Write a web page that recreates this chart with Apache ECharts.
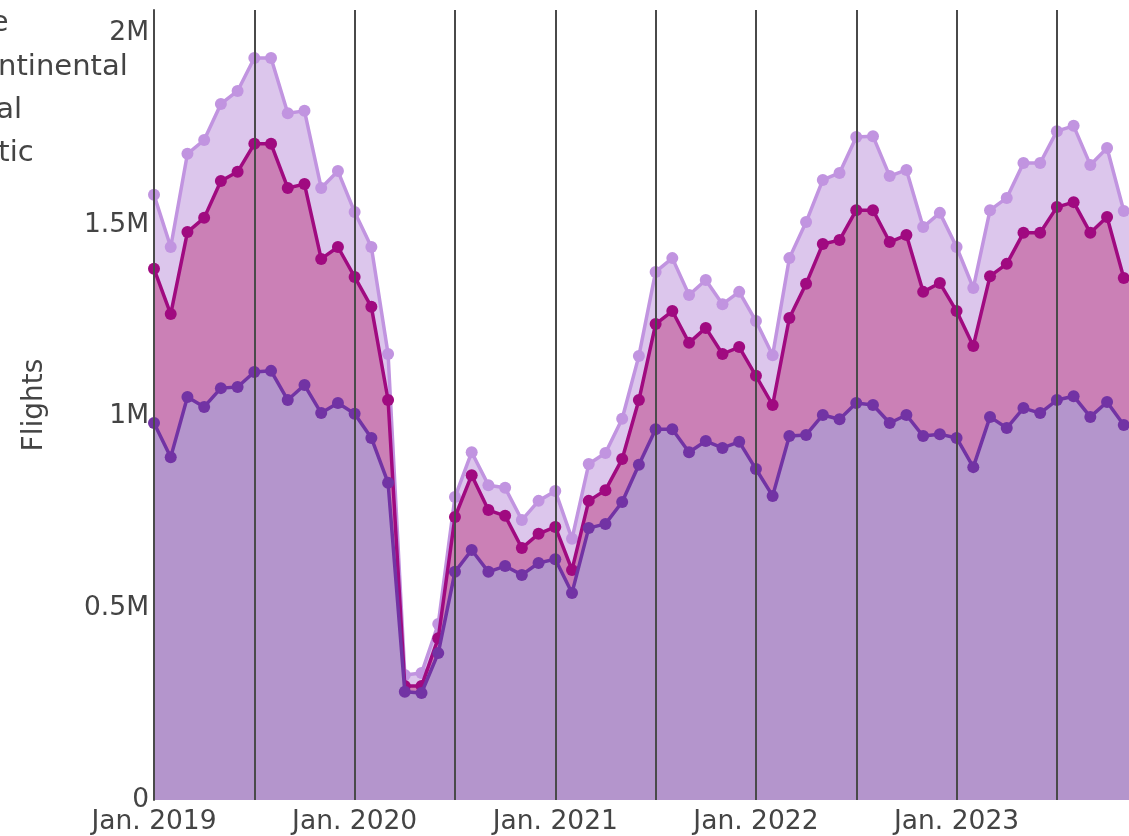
<!DOCTYPE html>
<html>
<head>
<meta charset="utf-8">
<script src="https://cdn.jsdelivr.net/npm/echarts@6/dist/echarts.min.js"></script>
<style>
  html, body { margin: 0; padding: 0; background: #fff; overflow: hidden; }
  #chart { width: 1160px; height: 836px; }
</style>
</head>
<body>
<div id="chart"></div>
<script>
const years = [2019, 2020, 2021, 2022, 2023];
const monthNames = ['Jan.', 'Feb.', 'Mar.', 'Apr.', 'May', 'Jun.', 'Jul.', 'Aug.', 'Sep.', 'Oct.', 'Nov.', 'Dec.'];

// monthly flights, thousands
const domestic = [
  983, 894, 1051, 1025, 1074, 1077, 1116, 1119, 1043, 1082, 1009, 1035,
  1007, 944, 827, 282, 279, 383, 595, 652, 595, 610, 587, 618,
  628, 540, 709, 720, 777, 874, 967, 967, 907, 936, 918, 934,
  863, 793, 949, 952, 1004, 993, 1035, 1030, 983, 1004, 949, 954,
  944, 868, 999, 970, 1022, 1009, 1043, 1053, 999, 1038, 978, 978
];
const regional = [
  402, 373, 430, 493, 540, 561, 595, 592, 553, 524, 402, 407,
  357, 342, 216, 15, 18, 39, 143, 195, 161, 131, 70, 76,
  84, 60, 71, 88, 112, 169, 274, 308, 285, 295, 245, 247,
  243, 237, 308, 394, 446, 467, 503, 508, 472, 469, 376, 394,
  331, 316, 367, 428, 457, 470, 503, 506, 480, 482, 383, 383
];
const intercontinental = [
  193, 175, 204, 203, 201, 211, 224, 224, 195, 191, 185, 198,
  169, 156, 120, 29, 34, 37, 52, 60, 65, 73, 73, 86,
  94, 81, 96, 97, 105, 115, 136, 138, 125, 125, 130, 144,
  143, 130, 156, 161, 167, 175, 191, 193, 172, 170, 169, 183,
  167, 151, 172, 172, 182, 182, 198, 199, 177, 180, 175, 172
];

const categories = [];
years.forEach(y => monthNames.forEach(m => categories.push(m + ' ' + y)));

const legendNames = ['Intercontinental', 'Regional', 'Domestic'];

const textColor = '#444';
const ruleColor = '#4a4a4a';

function series(name, data, line, fill, z) {
  return {
    name: name,
    type: 'line',
    stack: 'total',
    data: data.map(v => v * 1000),
    symbol: 'circle',
    symbolSize: 12,
    showSymbol: true,
    showAllSymbol: true,
    z: z,
    lineStyle: { width: 3.5, color: line },
    itemStyle: { color: line },
    areaStyle: { color: fill, opacity: 1 },
    emphasis: { disabled: true }
  };
}

const chart = echarts.init(document.getElementById('chart'));
chart.setOption({
  animation: false,
  textStyle: { fontFamily: 'DejaVu Sans' },
  title: {
    text: 'Type',
    left: -63,
    top: 4,
    textStyle: { fontSize: 29, fontWeight: 'normal', color: textColor, fontFamily: 'DejaVu Sans' }
  },
  legend: {
    orient: 'vertical',
    left: -139,
    top: 48,
    itemWidth: 25,
    itemHeight: 25,
    itemGap: 14,
    data: legendNames,
    textStyle: { fontSize: 29, color: textColor, fontFamily: 'DejaVu Sans' }
  },
  grid: { left: 154, top: 10, width: 986.5, height: 790 },
  xAxis: {
    type: 'category',
    data: categories,
    boundaryGap: false,
    z: 10,
    axisLine: { show: false },
    axisTick: { show: false },
    axisLabel: {
      interval: idx => idx % 12 === 0,
      fontSize: 26.5,
      color: textColor,
      margin: 9,
      fontFamily: 'DejaVu Sans'
    },
    splitLine: {
      show: true,
      interval: idx => idx % 6 === 0,
      lineStyle: { color: ruleColor, width: 2 }
    }
  },
  yAxis: {
    type: 'value',
    min: 0,
    max: 2060000,
    interval: 500000,
    z: 10,
    name: 'Flights',
    nameLocation: 'middle',
    nameGap: 105,
    nameTextStyle: { fontSize: 28, color: textColor, fontFamily: 'DejaVu Sans' },
    axisLine: { show: true, lineStyle: { color: ruleColor, width: 2 } },
    axisTick: { show: false },
    splitLine: { show: false },
    axisLabel: {
      showMaxLabel: false,
      fontSize: 26.5,
      color: textColor,
      margin: 5,
      padding: [9, 0, 0, 0],
      fontFamily: 'DejaVu Sans',
      formatter: v => v === 0 ? '0' : (v / 1e6) + 'M'
    }
  },
  series: [
    series('Domestic', domestic, '#7233a4', '#b495cc', 5),
    series('Regional', regional, '#a00a80', '#cb80b6', 4),
    series('Intercontinental', intercontinental, '#c194e0', '#dcc6ec', 3)
  ]
});
</script>
</body>
</html>
